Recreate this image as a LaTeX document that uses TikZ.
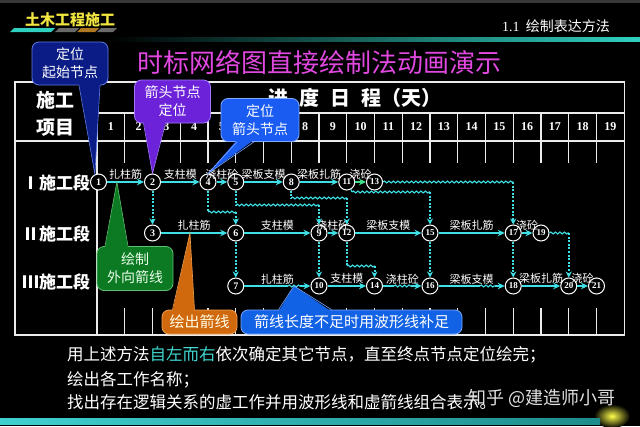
\documentclass[tikz,border=0pt]{standalone}
\usepackage{fontspec}
\setmainfont{Noto Sans CJK SC}
\newfontfamily\numfont{Liberation Serif}
\usetikzlibrary{arrows.meta,decorations.pathmorphing,calc}
\definecolor{ln}{HTML}{3EE0E6}
\definecolor{lngreen}{HTML}{40E088}
\definecolor{ttlmag}{HTML}{E048E0}
\definecolor{hdyellow}{HTML}{F2E640}
\definecolor{stripeC}{HTML}{30D0C0}
\definecolor{stripeG}{HTML}{6A6A6A}
\definecolor{stripeO}{HTML}{B07820}
\definecolor{coNavy}{HTML}{0B1C86}
\definecolor{coNavyB}{HTML}{5C7CE8}
\definecolor{coPurple}{HTML}{6C22D8}
\definecolor{coPurpleB}{HTML}{A478FF}
\definecolor{coBlue}{HTML}{1A5CF2}
\definecolor{coBlueB}{HTML}{7FA8FF}
\definecolor{coGreen}{HTML}{0C7A22}
\definecolor{coGreenB}{HTML}{60C070}
\definecolor{coOrange}{HTML}{D0680E}
\definecolor{coOrangeB}{HTML}{F0A050}
\definecolor{coBlueTwo}{HTML}{1262E6}
\definecolor{coBlueTwoB}{HTML}{78A8FF}
\definecolor{cyantext}{HTML}{40D8D0}
\definecolor{barL}{HTML}{40D0D0}
\definecolor{barR}{HTML}{1E8C8C}
\begin{document}
\begin{tikzpicture}[x=1pt,y=-1pt,
  nd/.style={circle,draw=white,line width=1pt,fill=black,minimum size=16pt,inner sep=0pt,text=white,font=\numfont\bfseries\fontsize{10}{10}\selectfont},
  ndd/.style={nd,font=\numfont\bfseries\fontsize{9}{9}\selectfont},
  act/.style={draw=ln,line width=2pt,-{Stealth[length=7pt,width=6.5pt]}},
  actn/.style={draw=ln,line width=2pt},
  dum/.style={draw=ln,line width=2pt,dash pattern=on 2pt off 1.6pt},
  duma/.style={dum,-{Stealth[length=6pt,width=6pt]}},
  wave/.style={draw=ln,line width=1.1pt,decorate,decoration={snake,amplitude=1pt,segment length=4.5pt}},
  lbl/.style={above=0.5pt,inner sep=1pt,text=white,font=\fontsize{11}{11}\selectfont},
  tbl/.style={draw=white!92!black,line width=1.5pt},
  gridtick/.style={draw=white!92!black,line width=1.2pt},
  co/.style={rounded corners=7pt,line width=0.8pt,align=center,text=white,inner sep=2pt,font=\fontsize{14}{18}\selectfont},
  daynum/.style={text=white,font=\numfont\bfseries\fontsize{12}{12}\selectfont},
  hd/.style={text=white,font=\bfseries\fontsize{19}{19}\selectfont},
  rowlbl/.style={text=white,font=\bfseries\fontsize{17}{17}\selectfont},
  bottomtxt/.style={anchor=west,text=white,font=\fontsize{16.5}{16.5}\selectfont,inner sep=0pt},
]
\useasboundingbox (0,0) rectangle (640,426);
\fill[black] (0,0) rectangle (640,426);
\fill[black!78] (0,0) rectangle (640,2.5);

% header band
\node[anchor=west,text=hdyellow,font=\bfseries\fontsize{15}{15}\selectfont,inner sep=0pt] (brand) at (25,20) {土木工程施工};
\fill[stripeC] (10,32) -- (14,28) -- (55,28) -- (51,32) -- cycle;
\fill[stripeG] (55,32) -- (59,28) -- (79,28) -- (75,32) -- cycle;
\fill[stripeO] (77,32) -- (81,28) -- (99,28) -- (95,32) -- cycle;
\fill[stripeG] (97,32) -- (101,28) -- (117,28) -- (113,32) -- cycle;
\shade[left color=black,middle color=stripeC!60!black,right color=stripeC] (105,37) rectangle (640,41);
\node[anchor=east,text=white,font=\fontsize{14}{14}\selectfont,inner sep=0pt] (sec) at (610,26) {{\numfont 1.1}\ \ 绘制表达方法};
\node[text=ttlmag,font=\fontsize{26}{26}\selectfont] (title) at (319,62) {时标网络图直接绘制法动画演示};

% table
\draw[tbl] (15,82) rectangle (624.25,335);
\draw[tbl] (97,82) -- (97,335);
\draw[tbl] (97,113) -- (624.25,113);
\draw[tbl] (15,141) -- (624.25,141);
\foreach \k in {1,...,18} {
  \draw[gridtick] ({97+27.75*\k},113) -- ({97+27.75*\k},163);
  \draw[gridtick] ({97+27.75*\k},308) -- ({97+27.75*\k},335);
}
\foreach \k in {1,...,19} {
  \node[daynum] (d\k) at ({97+27.75*(\k-0.5)},127) {\k};
}
\node[hd] (hA) at (55,100) {施工};
\node[hd] (hB) at (55,128) {项目};
\node[anchor=west,text=white,font=\bfseries\fontsize{20}{20}\selectfont,inner sep=0pt] (prog) at (268,98) {进\hspace{11pt}度\hspace{11pt}日\hspace{11pt}程（天）};
\node[rowlbl] (r1) at (56,183) {Ⅰ施工段};
\node[rowlbl] (r2) at (56,234) {Ⅱ施工段};
\node[rowlbl] (r3) at (56,282) {Ⅲ施工段};

% nodes
\node[nd] (n1) at (98.5,182) {1};
\node[nd] (n2) at (152.5,182) {2};
\node[nd] (n4) at (208,182) {4};
\node[nd] (n5) at (235.75,182) {5};
\node[nd] (n8) at (291.25,182) {8};
\node[ndd] (n11) at (346.75,182) {11};
\node[ndd] (n13) at (374.5,182) {13};
\node[nd] (n3) at (152.5,233) {3};
\node[nd] (n6) at (235.75,233) {6};
\node[nd] (n9) at (319,233) {9};
\node[ndd] (n12) at (346.75,233) {12};
\node[ndd] (n15) at (430,233) {15};
\node[ndd] (n17) at (513.25,233) {17};
\node[ndd] (n19) at (541,233) {19};
\node[nd] (n7) at (235.75,286) {7};
\node[ndd] (n10) at (319,286) {10};
\node[ndd] (n14) at (374.5,286) {14};
\node[ndd] (n16) at (430,286) {16};
\node[ndd] (n18) at (513.25,286) {18};
\node[ndd] (n20) at (568.75,286) {20};
\node[ndd] (n21) at (596.5,286) {21};

% bend points
\coordinate (c4a) at (208,212);
\coordinate (c4b) at (235.75,212);
\coordinate (c5a) at (235.75,205);
\coordinate (c5b) at (319,205);
\coordinate (c8a) at (291.25,198);
\coordinate (c8b) at (346.75,198);
\coordinate (c11a) at (352,192);
\coordinate (c11b) at (430,192);
\coordinate (c13b) at (513.25,182);
\coordinate (c12a) at (346.75,266);
\coordinate (c12b) at (374.5,266);
\coordinate (c19b) at (568.75,233);
\coordinate (w7a) at (288,286);
\coordinate (w7b) at (300,286);
\coordinate (w14a) at (394,286);
\coordinate (w14b) at (411,286);
\coordinate (w16a) at (480,286);
\coordinate (w16b) at (495,286);

% row I
\draw[act] (n1) -- node[lbl]{扎柱筋} (n2);
\draw[act] (n2) -- node[lbl]{支柱模} (n4);
\draw[act] (n4) -- node[lbl]{浇柱砼} (n5);
\draw[act] (n5) -- node[lbl]{梁板支模} (n8);
\draw[act] (n8) -- node[lbl]{梁板扎筋} (n11);
\draw[act,draw=lngreen] (n11) -- node[lbl]{浇砼} (n13);
% row II
\draw[act] (n3) -- node[lbl]{扎柱筋} (n6);
\draw[act] (n6) -- node[lbl]{支柱模} (n9);
\draw[act] (n9) -- node[lbl]{浇柱砼} (n12);
\draw[act] (n12) -- node[lbl]{梁板支模} (n15);
\draw[act] (n15) -- node[lbl]{梁板扎筋} (n17);
\draw[act] (n17) -- node[lbl]{浇砼} (n19);
% row III
\path (n7) -- node[lbl]{扎柱筋} (n10);
\draw[actn] (n7) -- (w7a);
\draw[wave] (w7a) -- (w7b);
\draw[act] (w7b) -- (n10);
\draw[act] (n10) -- node[lbl]{支柱模} (n14);
\path (n14) -- node[lbl]{浇柱砼} (n16);
\draw[actn] (n14) -- (w14a);
\draw[wave] (w14a) -- (w14b);
\draw[act] (w14b) -- (n16);
\path (n16) -- node[lbl]{梁板支模} (n18);
\draw[actn] (n16) -- (w16a);
\draw[wave] (w16a) -- (w16b);
\draw[act] (w16b) -- (n18);
\draw[act] (n18) -- node[lbl]{梁板扎筋} (n20);
\draw[act] (n20) -- node[lbl]{浇砼} (n21);

% dummy work
\draw[duma] (n2) -- (n3);
\draw[dum] (n4) -- (c4a);
\draw[wave] (c4a) -- (c4b);
\draw[duma] (c4b) -- (n6);
\draw[dum] (n5) -- (c5a);
\draw[wave] (c5a) -- (c5b);
\draw[duma] (c5b) -- (n9);
\draw[dum] (n8) -- (c8a);
\draw[wave] (c8a) -- (c8b);
\draw[duma] (c8b) -- (n12);
\draw[draw=ln,line width=1.1pt] (n11.300) -- (c11a);
\draw[wave] (c11a) -- (c11b);
\draw[duma] (c11b) -- (n15);
\draw[wave] (n13) -- (c13b);
\draw[duma] (c13b) -- (n17);
\draw[duma] (n6) -- (n7);
\draw[duma] (n9) -- (n10);
\draw[dum] (n12) -- (c12a);
\draw[wave] (c12a) -- (c12b);
\draw[duma] (c12b) -- (n14);
\draw[duma] (n15) -- (n16);
\draw[duma] (n17) -- (n18);
\draw[wave] (n19) -- (c19b);
\draw[duma] (c19b) -- (n20);

% callout tips
\coordinate (t4) at ($(n1)!0.34!(n2)$);
\coordinate (t5) at ($(n3)!0.45!(n6)$);
\coordinate (t6) at ($(n7)!0.7!(n10)$);

% callouts
\node[co,fill=coNavy,draw=coNavyB,minimum width=76pt,minimum height=43pt] (cA) at (70,63.5) {定位\\起始节点};
\fill[coNavy] ($(cA.south)+(9,-2)$) -- (n1.115) -- ($(cA.south)+(30,-2)$) -- cycle;
\draw[coNavyB,line width=0.6pt] ($(cA.south)+(9,0)$) -- (n1.115) -- ($(cA.south)+(30,0)$);

\node[co,fill=coPurple,draw=coPurpleB,minimum width=76pt,minimum height=43pt] (cB) at (172.5,101.5) {箭头节点\\定位};
\fill[coPurple] ($(cB.south)+(-29,-2)$) -- (n2.north) -- ($(cB.south)+(-7,-2)$) -- cycle;
\draw[coPurpleB,line width=0.6pt] ($(cB.south)+(-29,0)$) -- (n2.north) -- ($(cB.south)+(-7,0)$);

\node[co,fill=coBlue,draw=coBlueB,minimum width=78pt,minimum height=43pt] (cC) at (260,120) {定位\\箭头节点};
\fill[coBlue] ($(cC.south)+(-23,-2)$) -- (n4.north) -- ($(cC.south)+(-6,-2)$) -- cycle;
\draw[coBlueB,line width=0.6pt] ($(cC.south)+(-23,0)$) -- (n4.north) -- ($(cC.south)+(-6,0)$);

\node[co,fill=coGreen,draw=coGreenB,minimum width=76pt,minimum height=44pt,text=green!8!white] (cD) at (135,268.5) {绘制\\外向箭线};
\fill[coGreen] ($(cD.north)+(-30,2)$) -- (t4) -- ($(cD.north)+(-7,2)$) -- cycle;
\draw[coGreenB,line width=0.6pt] ($(cD.north)+(-30,0)$) -- (t4) -- ($(cD.north)+(-7,0)$);

\node[co,fill=coOrange,draw=coOrangeB,minimum width=75pt,minimum height=24pt,font=\fontsize{15}{15}\selectfont,text=yellow!10!white] (cE) at (199.5,322) {绘出箭线};
\fill[coOrange] ($(cE.north)+(-27,2)$) -- (t5) -- ($(cE.north)+(-5,2)$) -- cycle;
\draw[coOrangeB,line width=0.6pt] ($(cE.north)+(-27,0)$) -- (t5) -- ($(cE.north)+(-5,0)$);

\node[co,fill=coBlueTwo,draw=coBlueTwoB,minimum width=221pt,minimum height=24pt,font=\fontsize{15}{15}\selectfont] (cF) at (351.5,322) {箭线长度不足时用波形线补足};
\fill[coBlueTwo] ($(cF.north)+(-73,2)$) -- (t6) -- ($(cF.north)+(-20,2)$) -- cycle;
\draw[coBlueTwoB,line width=0.6pt] ($(cF.north)+(-73,0)$) -- (t6) -- ($(cF.north)+(-20,0)$);

% bottom texts
\node[bottomtxt] (b1) at (67,355) {用上述方法\textcolor{cyantext}{自左而右}依次确定其它节点，直至终点节点定位绘完；};
\node[bottomtxt] (b2) at (67,380) {绘出各工作名称；};
\node[bottomtxt] (b3) at (67,402) {找出存在逻辑关系的虚工作并用波形线和虚箭线组合表示。};

% bottom bar and glow
\shade[inner color=yellow!70!white,outer color=black] (612,416) ellipse (18 and 12);
\shade[left color=barL,right color=barR] (0,418) rectangle (600,424);
\node[anchor=west,text=white!88!black,font=\fontsize{18}{18}\selectfont,inner sep=0pt] (wm) at (468,398) {知乎 @建造师小哥};
\end{tikzpicture}
\end{document}
